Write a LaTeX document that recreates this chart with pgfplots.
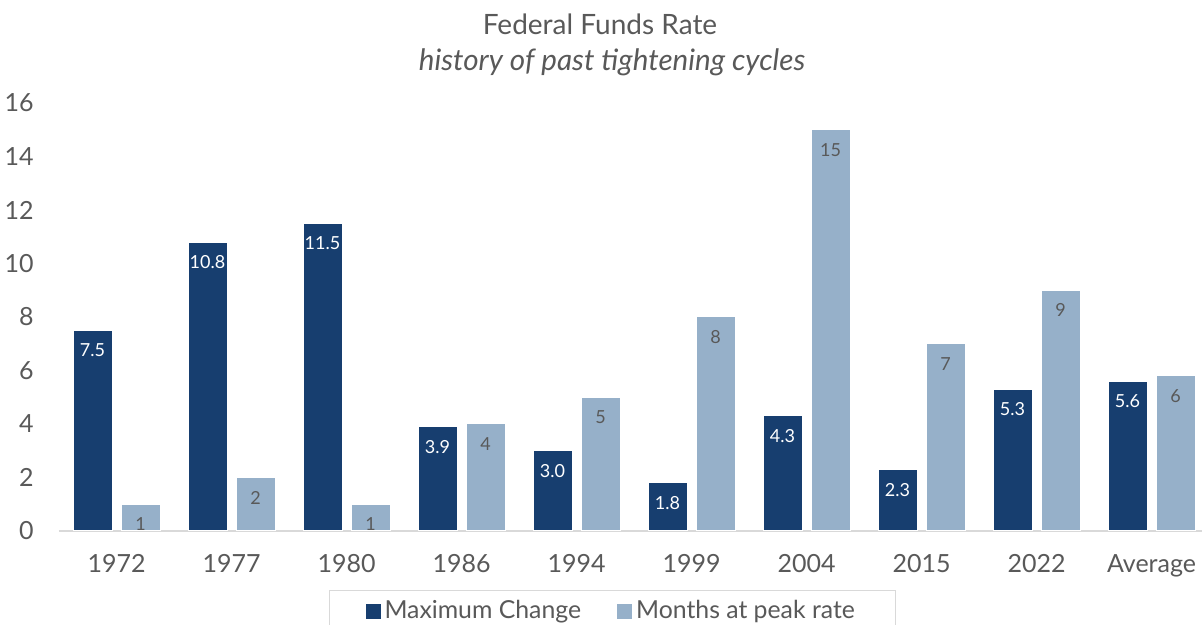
\documentclass[border=0pt]{standalone}
\usepackage{pgfplots}
\pgfplotsset{compat=1.18}
\usepackage{fontspec}
\setmainfont{Lato}
\definecolor{cDark}{RGB}{23,62,111}
\definecolor{cLight}{RGB}{150,176,201}
\definecolor{cText}{RGB}{89,89,89}
\definecolor{cRule}{RGB}{217,217,217}

\begin{document}
\begin{tikzpicture}
\useasboundingbox (0,0) rectangle (601pt,312.5pt);
\node[text=cText, font=\fontsize{14}{16}\selectfont] at (300pt,300.5pt) {Federal Funds Rate};
\node[text=cText, font=\fontsize{14.8}{17}\selectfont\itshape] at (306pt,281.5pt) {history of past tightening cycles};
\begin{axis}[
    at={(29.5pt,47pt)}, anchor=south west,
    scale only axis, width=571.5pt, height=214pt,
    xmin=-0.5, xmax=9.439, ymin=0, ymax=16,
    ybar=4.5pt, bar width=19.5pt,
    axis x line*=bottom, axis y line*=left,
    x axis line style={draw=cRule, line width=0.8pt, -},
    y axis line style={draw=none},
    xtick={0,...,9},
    xticklabels={1972,1977,1980,1986,1994,1999,2004,2015,2022,Average},
    ytick={0,2,...,16},
    major tick length=0pt,
    tick label style={text=cText, font=\fontsize{12.5}{14}\selectfont},
    /pgf/number format/assume math mode=true,
    xticklabel style={inner sep=0pt, anchor=north, yshift=-11.5pt},
    yticklabel style={inner sep=0pt, anchor=east, xshift=-12.5pt},
    point meta=explicit symbolic,
    nodes near coords,
    every node near coord/.append style={anchor=north, inner sep=0pt, yshift=-6.5pt,
        font=\fontsize{9}{10}\selectfont},
    clip=false,
    legend columns=2,
    legend style={at={(0.484,0)}, anchor=north, yshift=-29.5pt,
        draw=cRule, text=cText, font=\fontsize{12.4}{14}\selectfont,
        inner xsep=18pt, inner ysep=3pt,
        /tikz/every even column/.append style={column sep=16pt}},
    legend image code/.code={\path[#1, draw=none] (0pt,-3.75pt) rectangle (7.5pt,3.75pt);},
]
\addplot[fill=cDark, draw=white, line width=0.5pt,
    every node near coord/.append style={text=white}] coordinates {
    (0,7.5)[7.5] (1,10.8)[10.8] (2,11.5)[11.5] (3,3.9)[3.9] (4,3.0)[3.0]
    (5,1.8)[1.8] (6,4.3)[4.3] (7,2.3)[2.3] (8,5.3)[5.3] (9,5.6)[5.6]};
\addplot[fill=cLight, draw=white, line width=0.5pt,
    every node near coord/.append style={text=cText}] coordinates {
    (0,1)[1] (1,2)[2] (2,1)[1] (3,4)[4] (4,5)[5]
    (5,8)[8] (6,15)[15] (7,7)[7] (8,9)[9] (9,5.8)[6]};
\legend{Maximum Change,Months at peak rate}
\end{axis}
\end{tikzpicture}
\end{document}
